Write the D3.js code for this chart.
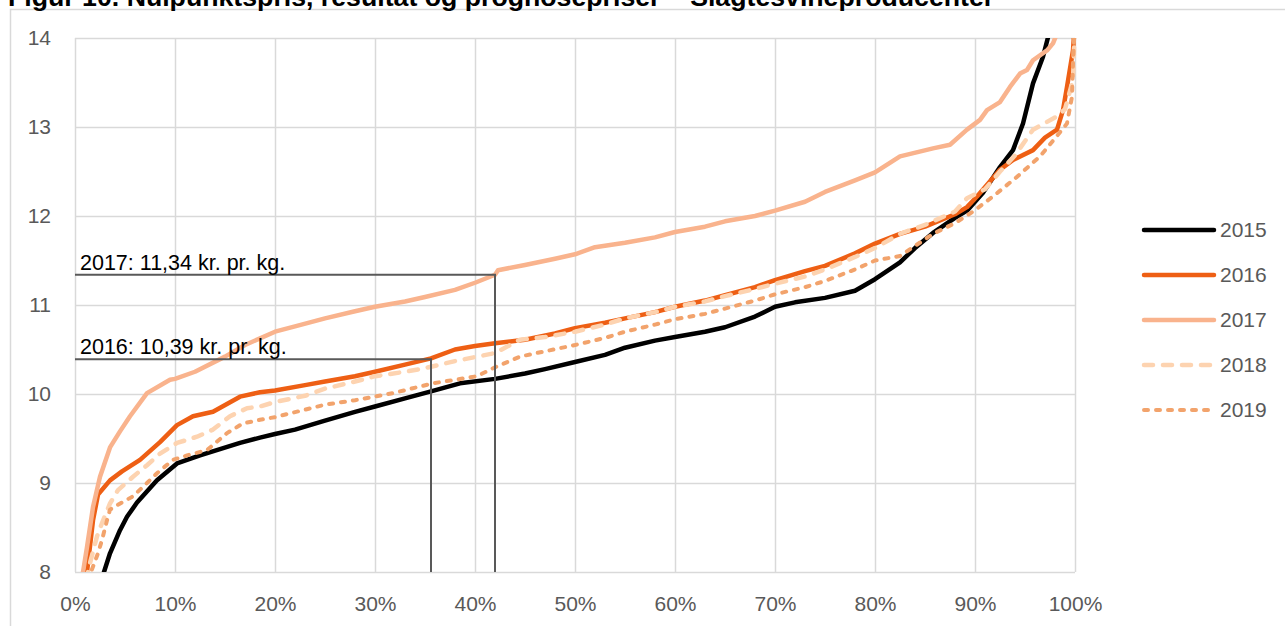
<!DOCTYPE html>
<html><head><meta charset="utf-8">
<script src="https://cdn.jsdelivr.net/npm/d3@7"></script>
<style>body{margin:0;background:#fff}svg{display:block}</style>
</head><body>
<svg id="c" width="1285" height="626"></svg>
<script>
const titleText = "Figur 10. Nulpunktspris, resultat og prognosepriser – Slagtesvineproducenter";
const years = ["2015","2016","2017","2018","2019"];
const yTicks = [8,9,10,11,12,13,14];
const xTicks = [0,10,20,30,40,50,60,70,80,90,100];

// [percent of production, price kr/kg]
const s2015 = [[2.6,7.9],[2.9,8.0],[3.5,8.21],[4.5,8.47],[5.2,8.62],[6.2,8.78],[8.2,9.03],[10.2,9.22],[12.5,9.31],[16.5,9.45],[18.5,9.51],[20,9.55],[22,9.6],[25,9.7],[28,9.8],[30,9.86],[33,9.95],[35.6,10.03],[38.5,10.12],[42,10.17],[45,10.23],[47,10.28],[50,10.36],[53,10.44],[55,10.52],[58,10.6],[60,10.64],[63,10.7],[65,10.75],[68,10.87],[70,10.98],[72,11.03],[75,11.08],[78,11.16],[80,11.29],[82.5,11.48],[84,11.64],[85.8,11.81],[88,11.98],[89.2,12.06],[90.8,12.26],[92.5,12.55],[93.8,12.74],[94.8,13.04],[95.8,13.49],[96.8,13.79],[97.4,14.05],[97.6,14.2]];
const s2016 = [[0.9,7.9],[1.2,8.0],[1.8,8.58],[2.3,8.87],[3.5,9.03],[4.7,9.13],[6.5,9.26],[8.5,9.46],[10.2,9.65],[11.8,9.75],[13.8,9.8],[16.5,9.97],[18.5,10.02],[20,10.04],[23,10.1],[25,10.14],[28,10.2],[30,10.25],[33,10.33],[35.6,10.4],[38,10.5],[40,10.54],[42,10.57],[45,10.61],[48,10.68],[50,10.74],[53,10.8],[55,10.85],[58,10.92],[60,10.98],[63,11.05],[65,11.11],[68,11.2],[70,11.28],[73,11.38],[75,11.44],[78,11.58],[80,11.69],[82.5,11.8],[85,11.88],[88,12.02],[89.2,12.1],[90.2,12.22],[92.5,12.52],[93.8,12.63],[95.8,12.74],[97,12.88],[98.2,12.97],[98.8,13.19],[99.2,13.45],[99.8,13.86],[100,14.2]];
const s2017 = [[0.5,7.9],[0.8,8.0],[1.2,8.28],[1.8,8.73],[2.5,9.07],[3.5,9.4],[4.5,9.58],[5.5,9.75],[7.2,10.01],[9.5,10.16],[10,10.17],[12,10.25],[15,10.42],[17,10.55],[20,10.7],[22,10.76],[25,10.85],[28,10.93],[30,10.98],[33,11.04],[35,11.09],[38,11.17],[40,11.25],[42,11.34],[42.3,11.39],[45,11.45],[48,11.52],[50,11.57],[52,11.65],[55,11.7],[58,11.76],[60,11.82],[63,11.88],[65,11.94],[68,12.0],[70,12.06],[73,12.16],[75,12.27],[78,12.4],[80,12.49],[82.5,12.67],[85.8,12.76],[87.5,12.8],[89.2,12.97],[90.5,13.08],[91.2,13.19],[92.5,13.28],[93.5,13.45],[94.5,13.6],[95.2,13.64],[95.8,13.75],[97.2,13.86],[97.8,13.94],[98.2,14.05],[98.4,14.2]];
const s2018 = [[1.1,7.9],[1.5,8.1],[2.2,8.4],[2.7,8.55],[3.5,8.77],[4.3,8.92],[5.8,9.07],[7.2,9.2],[8.5,9.33],[10.2,9.45],[12.2,9.52],[13.8,9.6],[15.5,9.75],[17.2,9.84],[18.5,9.86],[20,9.91],[23,9.98],[25,10.06],[28,10.14],[30,10.2],[33,10.25],[35,10.29],[38,10.37],[42,10.46],[44.5,10.61],[47,10.64],[50,10.7],[53,10.78],[55,10.85],[58,10.92],[60,10.98],[63,11.04],[65,11.1],[68,11.18],[70,11.24],[73,11.32],[75,11.4],[78,11.54],[80,11.64],[82.5,11.8],[85,11.9],[88,12.05],[89.2,12.2],[91,12.3],[92.5,12.5],[94,12.68],[95.8,12.97],[98.2,13.12],[99,13.2],[99.8,13.53],[100,14.2]];
const s2019 = [[1.3,7.9],[1.6,8.0],[2.3,8.21],[2.7,8.36],[3.2,8.58],[3.5,8.7],[4.2,8.75],[5.8,8.85],[7.2,9.0],[8.2,9.11],[9.8,9.26],[11.2,9.31],[13.2,9.37],[15.2,9.56],[16.8,9.67],[18.5,9.71],[20,9.74],[25,9.88],[28,9.93],[31.8,10.01],[35.8,10.12],[40.2,10.2],[42,10.3],[44.5,10.42],[47,10.48],[50,10.55],[53,10.63],[55,10.7],[58,10.78],[60,10.84],[63,10.9],[65,10.96],[68,11.05],[70,11.12],[73,11.2],[75,11.27],[78,11.4],[80,11.5],[82.5,11.55],[85.8,11.8],[88,11.92],[89.8,12.05],[91.8,12.22],[94.2,12.44],[96.5,12.67],[98.2,12.9],[99.2,13.04],[99.7,13.34],[99.8,13.72],[100,14.2]];

// reference markers [percent, price, label]
const refs = [[42,11.34,"2017: 11,34 kr. pr. kg."],[35.6,10.39,"2016: 10,39 kr. pr. kg."]];

const seriesData = [s2015,s2016,s2017,s2018,s2019];
const colors = ["#000000","#EE5F14","#F9B38D","#FDD3B0","#F2A36C"];
const widths = [4.5,4.5,4.5,4.5,4];
const dashes = [null,null,null,"9,10","4,8"];

const svg = d3.select("#c");
const x = d3.scaleLinear().domain([0,100]).range([75,1075]);
const y = d3.scaleLinear().domain([8,14]).range([572,38]);
const FONT = "'Liberation Sans', Arial, sans-serif";

// outer frame
svg.append("rect").attr("x",10.5).attr("y",9.5).attr("width",1300).attr("height",700)
  .attr("fill","none").attr("stroke","#d9d9d9").attr("stroke-width",1.5);

// title (cut off at top, as in the source)
svg.append("text").attr("x",8).attr("y",6).text(titleText)
  .attr("font-family",FONT).attr("font-weight","bold").attr("font-size",26.7).attr("fill","#000");

// gridlines
const gx = svg.append("g").attr("transform","translate(0,572)")
  .call(d3.axisBottom(x).tickValues(xTicks).tickSize(-534).tickFormat(""));
const gy = svg.append("g").attr("transform","translate(75,0)")
  .call(d3.axisLeft(y).tickValues(yTicks).tickSize(-1000).tickFormat(""));
[gx,gy].forEach(g=>{g.select(".domain").remove();g.selectAll("line").attr("stroke","#d9d9d9").attr("stroke-width",1.5);});

// tick labels
const lx = svg.append("g").attr("transform","translate(0,572)")
  .call(d3.axisBottom(x).tickValues(xTicks).tickSize(0).tickPadding(0).tickFormat(d=>d+"%"));
lx.select(".domain").remove();
lx.selectAll("text").attr("dy",null).attr("y",39).attr("font-family",FONT).attr("font-size",21).attr("fill","#595959");
const ly = svg.append("g").attr("transform","translate(51,0)")
  .call(d3.axisLeft(y).tickValues(yTicks).tickSize(0).tickPadding(0).tickFormat(d3.format("d")));
ly.select(".domain").remove();
ly.selectAll("text").attr("font-family",FONT).attr("font-size",21).attr("fill","#595959");

// clip
svg.append("clipPath").attr("id","pc").append("rect").attr("x",60).attr("y",38).attr("width",1030).attr("height",534);

const line = d3.line().x(d=>x(d[0])).y(d=>y(d[1]));
const lg = svg.append("g").attr("clip-path","url(#pc)");
seriesData.forEach((s,i)=>{
  const p = lg.append("path").datum(s).attr("d",line).attr("fill","none")
    .attr("stroke",colors[i]).attr("stroke-width",widths[i])
    .attr("stroke-linejoin","round").attr("stroke-linecap","round");
  if(dashes[i]) p.attr("stroke-dasharray",dashes[i]);
});

// reference lines and labels
refs.forEach(r=>{
  svg.append("path").attr("d",`M${x(0)},${y(r[1])}H${x(r[0])}V${y(8)}`)
    .attr("fill","none").attr("stroke","#595959").attr("stroke-width",2);
  svg.append("text").attr("x",x(0)+5).attr("y",y(r[1])-5).text(r[2])
    .attr("font-family",FONT).attr("font-size",21.5).attr("fill","#000");
});

// legend
const leg = svg.append("g");
years.forEach((yr,i)=>{
  const yy = 230 + i*45;
  const l = leg.append("line").attr("x1",1144).attr("x2",1214).attr("y1",yy).attr("y2",yy)
    .attr("stroke",colors[i]).attr("stroke-width",widths[i]).attr("stroke-linecap","round");
  if(dashes[i]) l.attr("stroke-dasharray",dashes[i]);
  leg.append("text").attr("x",1220).attr("y",yy).attr("dy","0.35em").text(yr)
    .attr("font-family",FONT).attr("font-size",21).attr("fill","#595959");
});
</script>
</body></html>
